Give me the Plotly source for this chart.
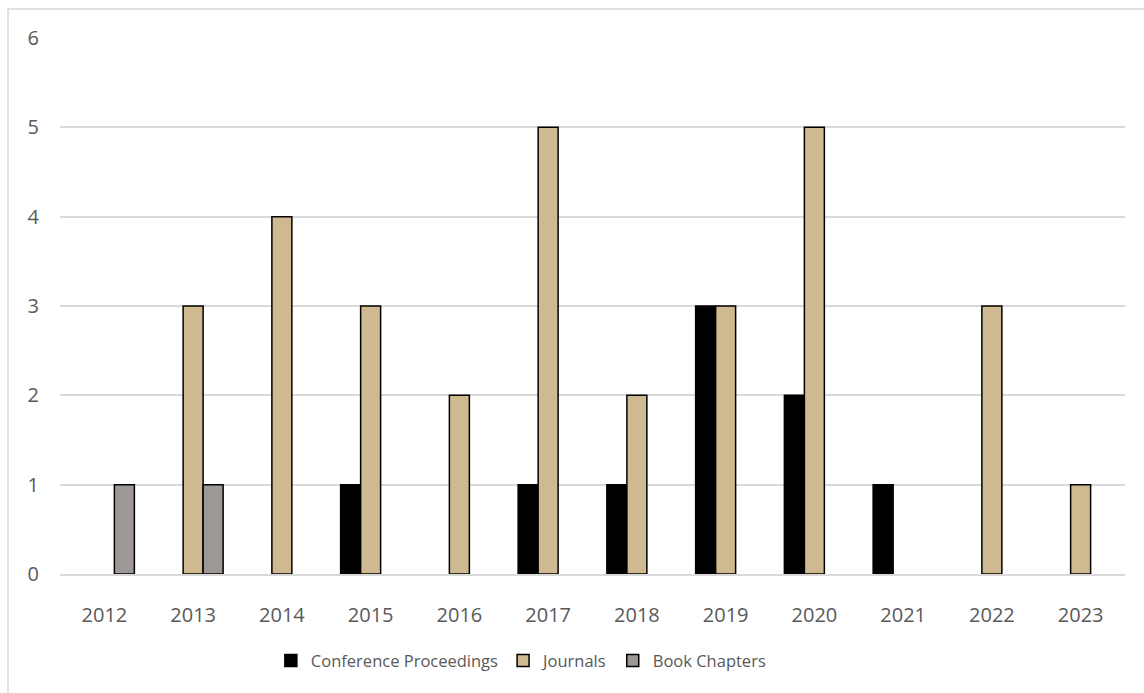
import plotly.graph_objects as go

years = ["2012", "2013", "2014", "2015", "2016", "2017",
         "2018", "2019", "2020", "2021", "2022", "2023"]
conference = [0, 0, 0, 1, 0, 1, 1, 3, 2, 1, 0, 0]
journals = [0, 3, 4, 3, 2, 5, 2, 3, 5, 0, 3, 1]
book_chapters = [1, 1, 0, 0, 0, 0, 0, 0, 0, 0, 0, 0]

series = [
    ("Conference Proceedings", conference, "#000000"),
    ("Journals", journals, "#CFB991"),
    ("Book Chapters", book_chapters, "#9D9795"),
]

fig = go.Figure()
for name, vals, color in series:
    # zero counts are left empty so no outline is drawn on the baseline
    shown = [v if v else None for v in vals]
    fig.add_trace(go.Bar(
        x=years, y=shown, name=name,
        marker=dict(color=color, line=dict(color="#000000", width=1.5)),
    ))

text_color = "#595959"
font_family = "Open Sans"

fig.update_layout(
    width=1144, height=693,
    margin=dict(l=60, r=19, t=38, b=119),
    paper_bgcolor="white", plot_bgcolor="white",
    barmode="group", bargap=0.324, bargroupgap=0,
    font=dict(family=font_family, size=20, color=text_color),
    showlegend=True,
    legend=dict(
        orientation="h", x=0.198, xanchor="left", y=-0.162, yanchor="middle",
        font=dict(size=16.5, color=text_color), itemwidth=30,
        traceorder="normal",
    ),
    xaxis=dict(
        showgrid=False, showline=True, linecolor="#D9D9D9", linewidth=1.5,
        ticks="", ticklabelstandoff=22,
        tickfont=dict(size=20, color=text_color),
    ),
    yaxis=dict(
        range=[0, 6], dtick=1, showgrid=True, gridcolor="#D9D9D9", gridwidth=1.5,
        zeroline=False, showline=False, ticks="", ticklabelstandoff=20,
        tickfont=dict(size=20, color=text_color),
    ),
    shapes=[dict(
        type="rect", xref="paper", yref="paper",
        x0=-52 / 1065, x1=1.2, y0=-0.3, y1=(574 - 9) / 536,
        line=dict(color="#D9D9D9", width=1.5), fillcolor="rgba(0,0,0,0)",
        layer="below",
    )],
)

fig.write_html("out.html")
